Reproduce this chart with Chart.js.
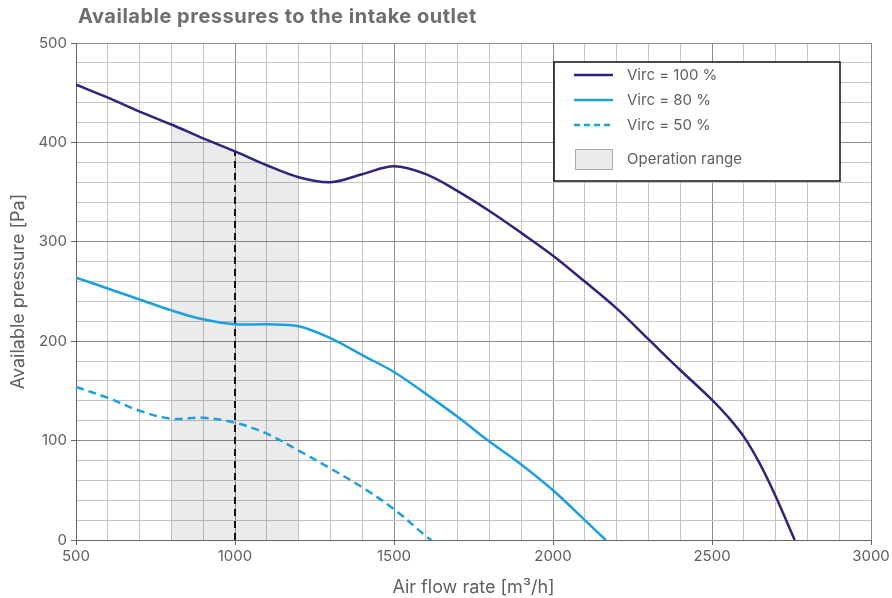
<!DOCTYPE html>
<html>
<head>
<meta charset="utf-8">
<script src="https://cdn.jsdelivr.net/npm/chart.js@4.4.1/dist/chart.umd.min.js"></script>
<style>
  html, body { margin: 0; padding: 0; background: #fff; }
  #wrap { width: 892px; height: 598px; }
</style>
</head>
<body>
<div id="wrap"><canvas id="pressureChart" width="892" height="598"></canvas></div>
<script>
const chartTitle = 'Available pressures to the intake outlet';

// Virc = 100 %
const flow100 = [500, 600, 700, 800, 900, 1000, 1100, 1200, 1300, 1400, 1500, 1600, 1700, 1800, 1900, 2000, 2100, 2200, 2300, 2400, 2500, 2550, 2600, 2650, 2700, 2760];
const press100 = [458, 445, 431, 418, 404, 391, 377, 365, 360, 368, 376, 368, 351, 331, 309, 286, 260, 233, 202, 171, 141, 124, 104, 77, 44, 0];

// Virc = 80 %
const flow80 = [500, 600, 700, 800, 900, 1000, 1100, 1200, 1300, 1400, 1500, 1600, 1700, 1800, 1900, 2000, 2100, 2166];
const press80 = [264, 253, 242, 231, 222, 217, 217, 215, 203, 186, 169, 147, 124, 99, 76, 50, 20, 0];

// Virc = 50 %
const flow50 = [500, 600, 700, 800, 900, 1000, 1100, 1200, 1300, 1400, 1500, 1600, 1617];
const press50 = [154, 143, 130, 122, 123, 118, 107, 90, 72, 53, 31, 4, 0];

// operation range (800..1200 under the 100 % curve) and nominal point
const rangeFlow = [800, 900, 1000, 1100, 1200];
const rangePress = [418, 404, 391, 377, 365];
const nominalFlow = [1000, 1000];
const nominalPress = [0, 391];

const seriesLabels = ['Virc = 100 %', 'Virc = 80 %', 'Virc = 50 %', 'Operation range'];
const xTickLabels = [500, 1000, 1500, 2000, 2500, 3000];
const yTickLabels = [0, 100, 200, 300, 400, 500];

const NAVY = '#2c2681';
const SKY = '#1ba1e2';
const TEXT = '#5f5f5f';
const FONT = 'Inter, "Noto Sans", sans-serif';

const toPoints = (xs, ys) => xs.map((x, i) => ({ x: x, y: ys[i] }));

// title + boxed legend drawn straight onto the canvas
const decorPlugin = {
    id: 'decor',
    afterDraw(chart) {
        const ctx = chart.ctx;
        ctx.save();
        ctx.fillStyle = '#6e6e6e';
        ctx.font = 'bold 20px ' + FONT;
        ctx.letterSpacing = '0.5px';
        ctx.textBaseline = 'middle';
        ctx.textAlign = 'left';
        ctx.fillText(chartTitle, 78, 17);
        ctx.letterSpacing = '0px';

        const bx = 554, by = 62, bw = 286, bh = 119;
        ctx.fillStyle = '#fff';
        ctx.fillRect(bx, by, bw, bh);
        ctx.strokeStyle = '#111';
        ctx.lineWidth = 1.5;
        ctx.strokeRect(bx, by, bw, bh);

        const rows = [75, 100, 125];
        const styles = [
            { color: NAVY, dash: [] },
            { color: SKY, dash: [] },
            { color: SKY, dash: [6, 4] },
        ];
        ctx.font = '15px ' + FONT;
        rows.forEach((y, i) => {
            ctx.beginPath();
            ctx.setLineDash(styles[i].dash);
            ctx.strokeStyle = styles[i].color;
            ctx.lineWidth = 2.5;
            ctx.moveTo(574, y);
            ctx.lineTo(613, y);
            ctx.stroke();
            ctx.fillStyle = TEXT;
            ctx.fillText(seriesLabels[i], 627, y);
        });
        ctx.setLineDash([]);
        ctx.fillStyle = '#ebebeb';
        ctx.fillRect(575, 149, 37, 20);
        ctx.strokeStyle = '#aaa';
        ctx.lineWidth = 1;
        ctx.strokeRect(575.5, 149.5, 37, 20);
        ctx.fillStyle = TEXT;
        ctx.fillText(seriesLabels[3], 627, 159);
        ctx.restore();
    },
};

new Chart(document.getElementById('pressureChart'), {
    type: 'line',
    data: {
        datasets: [
            {
                label: seriesLabels[3],
                data: toPoints(rangeFlow, rangePress),
                borderWidth: 0,
                pointRadius: 0,
                fill: 'origin',
                backgroundColor: 'rgba(0,0,0,0.08)',
                tension: 0.35,
                order: 5,
            },
            {
                label: 'nominal',
                data: toPoints(nominalFlow, nominalPress),
                borderColor: '#111',
                borderWidth: 2,
                borderDash: [7, 5],
                pointRadius: 0,
                order: 4,
            },
            {
                label: seriesLabels[2],
                data: toPoints(flow50, press50),
                borderColor: SKY,
                borderWidth: 2.5,
                borderDash: [8, 5],
                pointRadius: 0,
                tension: 0.35,
                order: 3,
            },
            {
                label: seriesLabels[1],
                data: toPoints(flow80, press80),
                borderColor: SKY,
                borderWidth: 2.5,
                pointRadius: 0,
                tension: 0.35,
                order: 2,
            },
            {
                label: seriesLabels[0],
                data: toPoints(flow100, press100),
                borderColor: NAVY,
                borderWidth: 2.5,
                pointRadius: 0,
                tension: 0.35,
                order: 1,
            },
        ],
    },
    options: {
        responsive: false,
        animation: false,
        layout: { padding: { left: 0, right: 21, top: 43, bottom: 0 } },
        plugins: {
            legend: { display: false },
            tooltip: { enabled: false },
            title: { display: false },
        },
        scales: {
            x: {
                type: 'linear',
                min: 500,
                max: 3000,
                border: { color: '#666', width: 1 },
                grid: {
                    color: (c) => (c.tick && c.tick.value % 500 === 0 ? '#8c8c8c' : '#c4c4c4'),
                    tickColor: (c) => (c.tick && c.tick.value % 500 === 0 ? '#666' : 'rgba(0,0,0,0)'),
                    tickLength: 5,
                },
                ticks: {
                    stepSize: 100,
                    autoSkip: false,
                    maxRotation: 0,
                    color: TEXT,
                    font: { family: FONT, size: 15 },
                    padding: 2,
                    callback: (v) => (xTickLabels.includes(v) ? String(v) : ''),
                },
                title: {
                    display: true,
                    text: 'Air flow rate [m³/h]',
                    color: TEXT,
                    font: { family: FONT, size: 18 },
                    padding: { top: 6, bottom: 0 },
                },
                afterFit(scale) { scale.height = 58; },
            },
            y: {
                min: 0,
                max: 500,
                border: { color: '#666', width: 1 },
                grid: {
                    color: (c) => (c.tick && c.tick.value % 100 === 0 ? '#8c8c8c' : '#c4c4c4'),
                    tickColor: (c) => (c.tick && c.tick.value % 100 === 0 ? '#666' : 'rgba(0,0,0,0)'),
                    tickLength: 5,
                },
                ticks: {
                    stepSize: 20,
                    autoSkip: false,
                    color: TEXT,
                    font: { family: FONT, size: 15 },
                    padding: 4,
                    callback: (v) => (yTickLabels.includes(v) ? String(v) : ''),
                },
                title: {
                    display: true,
                    text: 'Available pressure [Pa]',
                    color: TEXT,
                    font: { family: FONT, size: 18 },
                    padding: { top: 8, bottom: 4 },
                },
                afterFit(scale) { scale.width = 76; },
            },
        },
    },
    plugins: [decorPlugin],
});
</script>
</body>
</html>
